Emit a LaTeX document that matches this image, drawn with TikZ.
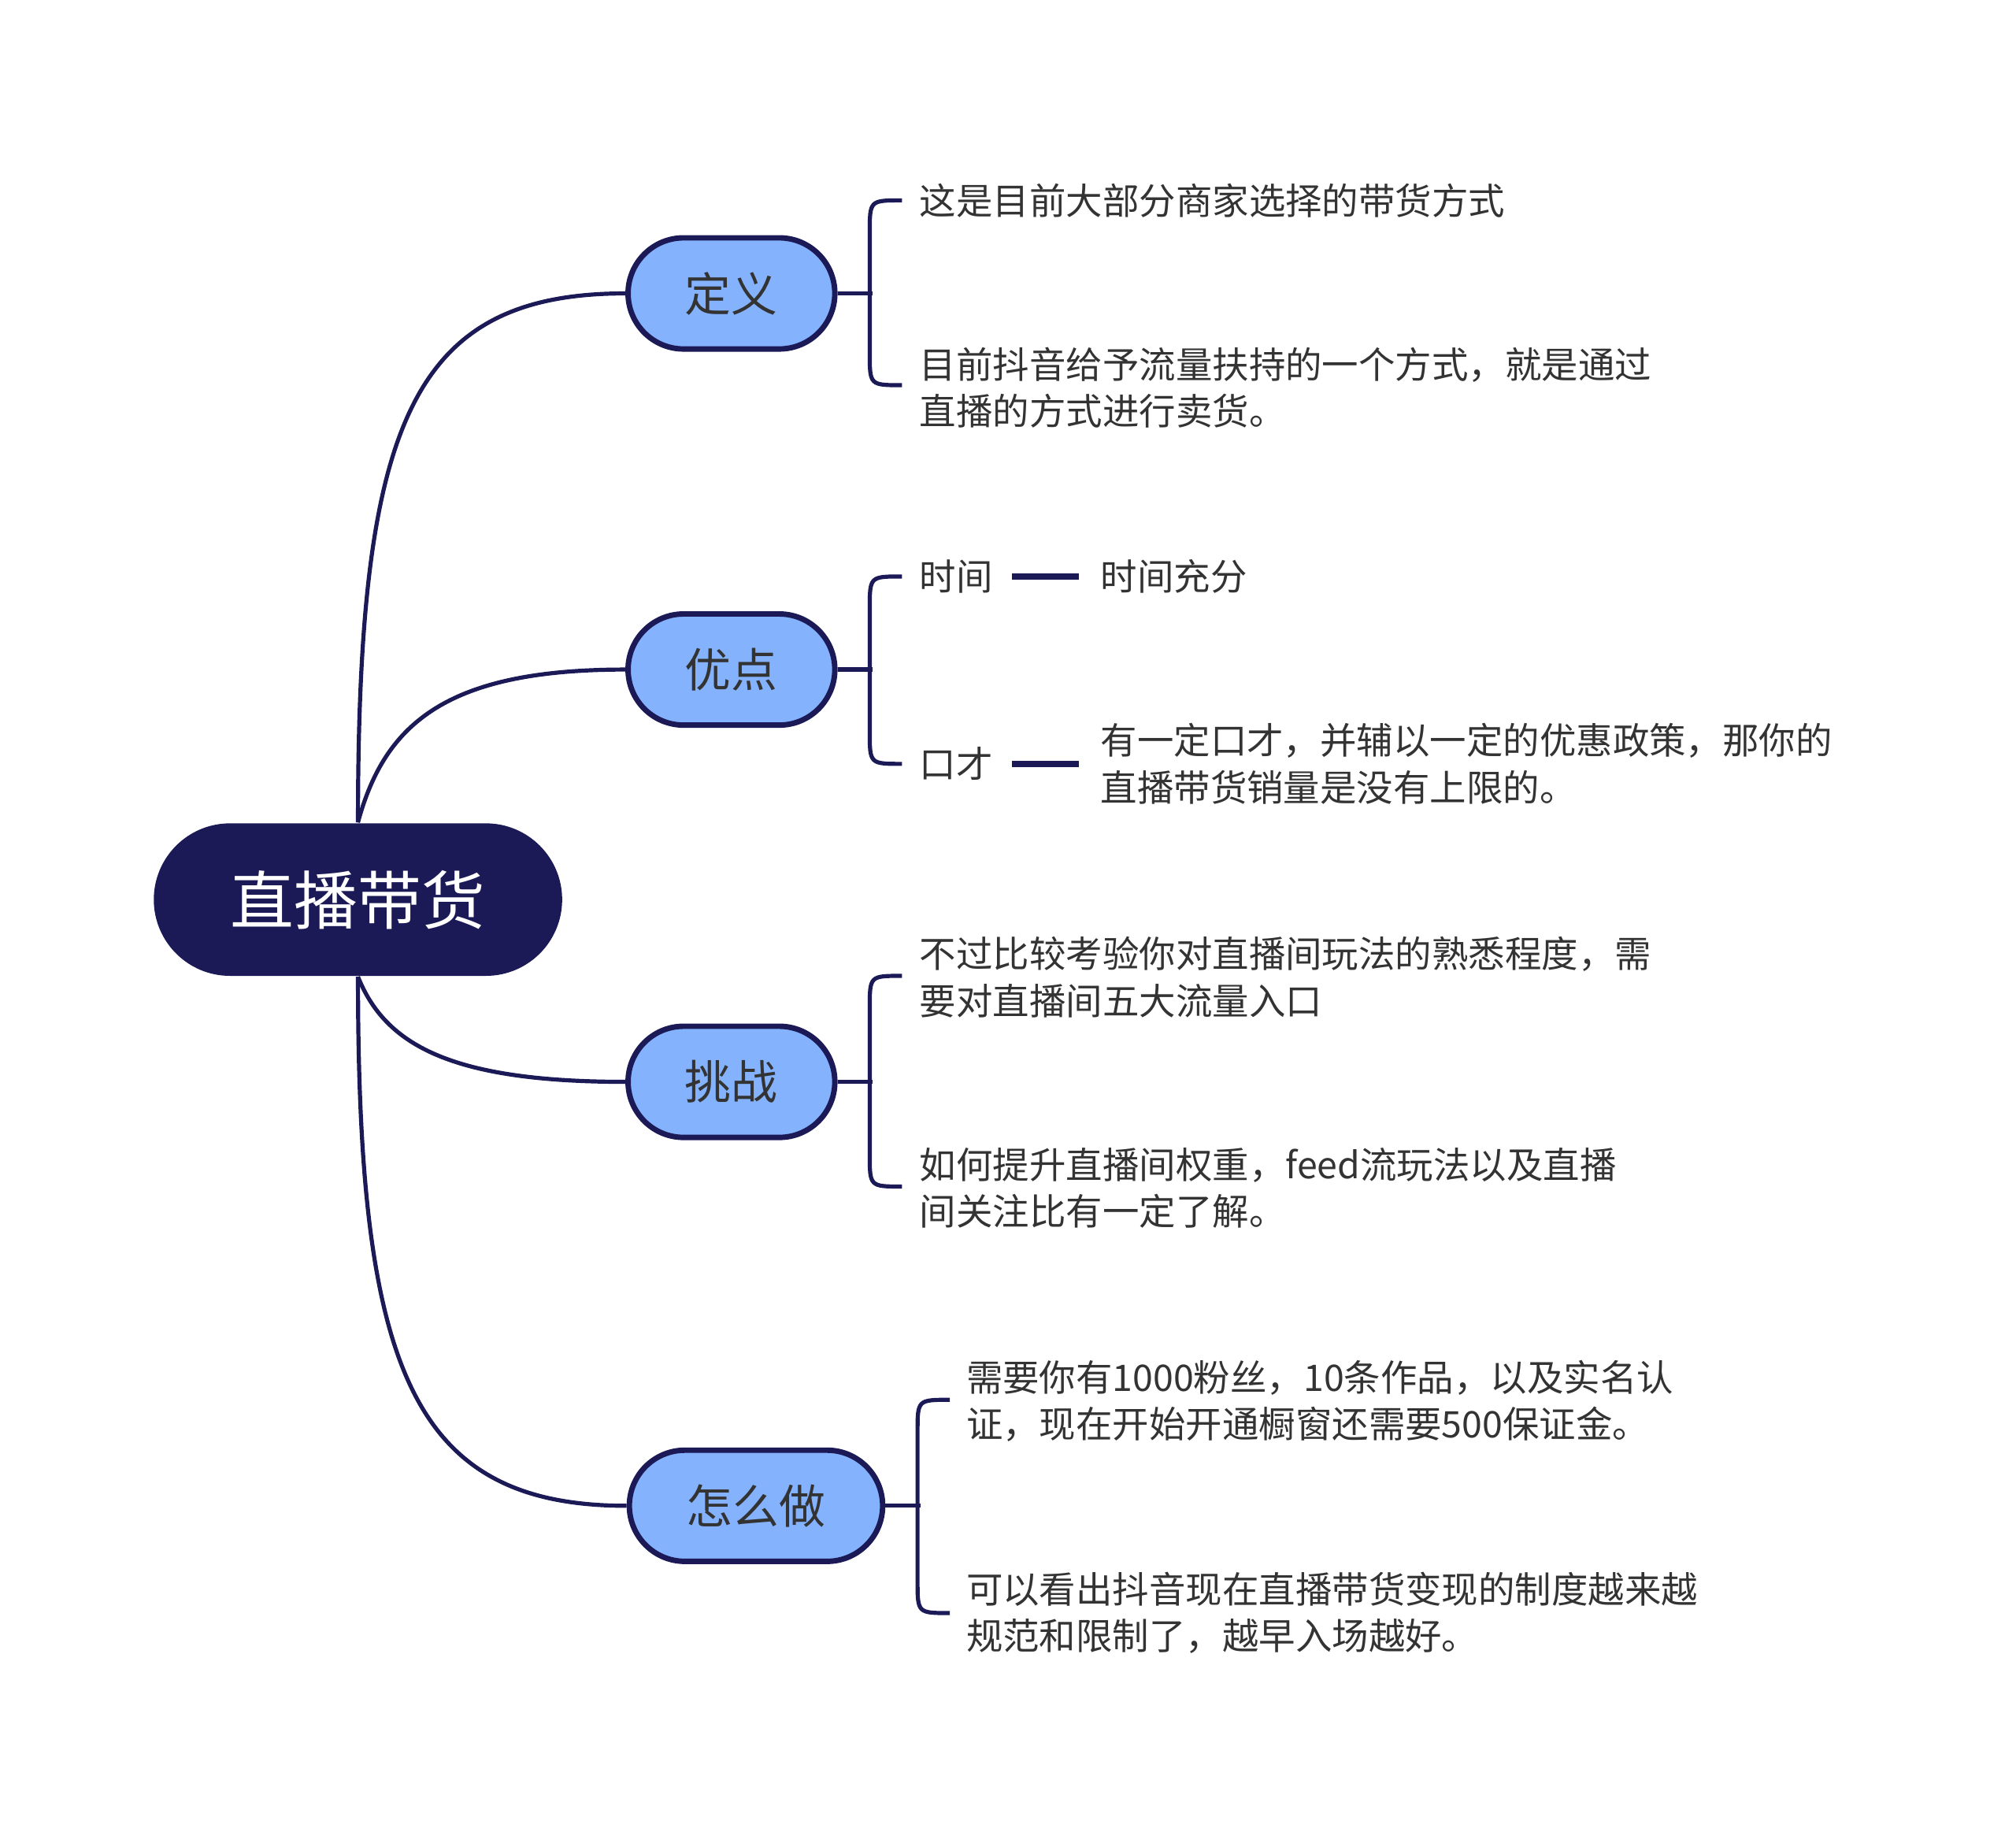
\documentclass[tikz,border=0pt]{standalone}
\usepackage{fontspec}
\setmainfont{Noto Sans CJK SC}
\usetikzlibrary{positioning}
\definecolor{navy}{HTML}{1B1A57}
\definecolor{topicblue}{HTML}{84B2FC}
\definecolor{txt}{HTML}{333333}
\tikzset{
  root/.style={rounded corners=59*0.01cm,fill=navy,text=white,minimum width=316*0.01cm,minimum height=118*0.01cm,font=\fontsize{14pt}{16pt}\selectfont},
  topic/.style={rounded corners=43*0.01cm,fill=topicblue,draw=navy,line width=1.2pt,minimum height=86*0.01cm,text=txt,font=\fontsize{10.2pt}{12pt}\selectfont},
  leaf/.style={anchor=west,align=left,inner sep=0pt,text=txt,font=\fontsize{8.05pt}{10.3pt}\selectfont},
  link/.style={draw=navy,line width=0.9pt}
}
\begin{document}
\begin{tikzpicture}[x=0.01cm,y=-0.01cm]
\useasboundingbox (2,2) rectangle (1562,1419);
 % main node and topics
 \node[root] (main) at (279,698) {直播带货};
 \node[topic,minimum width=160*0.01cm] (def) at (568,229) {定义};
 \node[topic,minimum width=160*0.01cm] (pro) at (568,520) {优点};
 \node[topic,minimum width=160*0.01cm] (chal) at (568,839) {挑战};
 \node[topic,minimum width=196*0.01cm] (how) at (587,1167) {怎么做};
 % branches from the main node
 \draw[link] (main.north) .. controls (279,330) and (320,229) .. (def.west);
 \draw[link] (main.north) .. controls (300,560) and (350,520) .. (pro.west);
 \draw[link] (main.south) .. controls (300,810) and (350,839) .. (chal.west);
 \draw[link] (main.south) .. controls (279,1060) and (320,1167) .. (how.west);
 % leaves
 \node[leaf] (d1) at (713,157) {这是目前大部分商家选择的带货方式};
 \node[leaf] (d2) at (713,302) {目前抖音给予流量扶持的一个方式，就是通过\\直播的方式进行卖货。};
 \node[leaf] (p1) at (713,448) {时间};
 \node[leaf] (p1a) at (853,448) {时间充分};
 \node[leaf] (p2) at (713,593) {口才};
 \node[leaf] (p2a) at (853,593) {有一定口才，并辅以一定的优惠政策，那你的\\直播带货销量是没有上限的。};
 \node[leaf] (c1) at (713,758) {不过比较考验你对直播间玩法的熟悉程度，需\\要对直播间五大流量入口};
 \node[leaf] (c2) at (713,921) {如何提升直播间权重，feed流玩法以及直播\\间关注比有一定了解。};
 \node[leaf] (h1) at (749,1086) {需要你有1000粉丝，10条作品，以及实名认\\证，现在开始开通橱窗还需要500保证金。};
 \node[leaf] (h2) at (749,1250) {可以看出抖音现在直播带货变现的制度越来越\\规范和限制了，越早入场越好。};
 \draw[link,line width=1.3pt,shorten <=14*0.01cm,shorten >=16*0.01cm] (p1.east) -- (p1a.west |- p1.east);
 \draw[link,line width=1.3pt,shorten <=14*0.01cm,shorten >=16*0.01cm] (p2.east) -- (p2a.west |- p2.east);
 % brackets
 \draw[link] (def.east) -- ++(27,0);
 \draw[link] (pro.east) -- ++(27,0);
 \draw[link] (chal.east) -- ++(27,0);
 \draw[link] (how.east) -- ++(27,0);
 \foreach \x/\ya/\yb in {675/157/300, 675/448/593, 675/757/920, 712/1085/1250}{
   \draw[link] (\x+25,\ya) .. controls (\x,\ya) .. (\x,\ya+25) -- (\x,\yb-25) .. controls (\x,\yb) .. (\x+25,\yb);
 }
\end{tikzpicture}
\end{document}
